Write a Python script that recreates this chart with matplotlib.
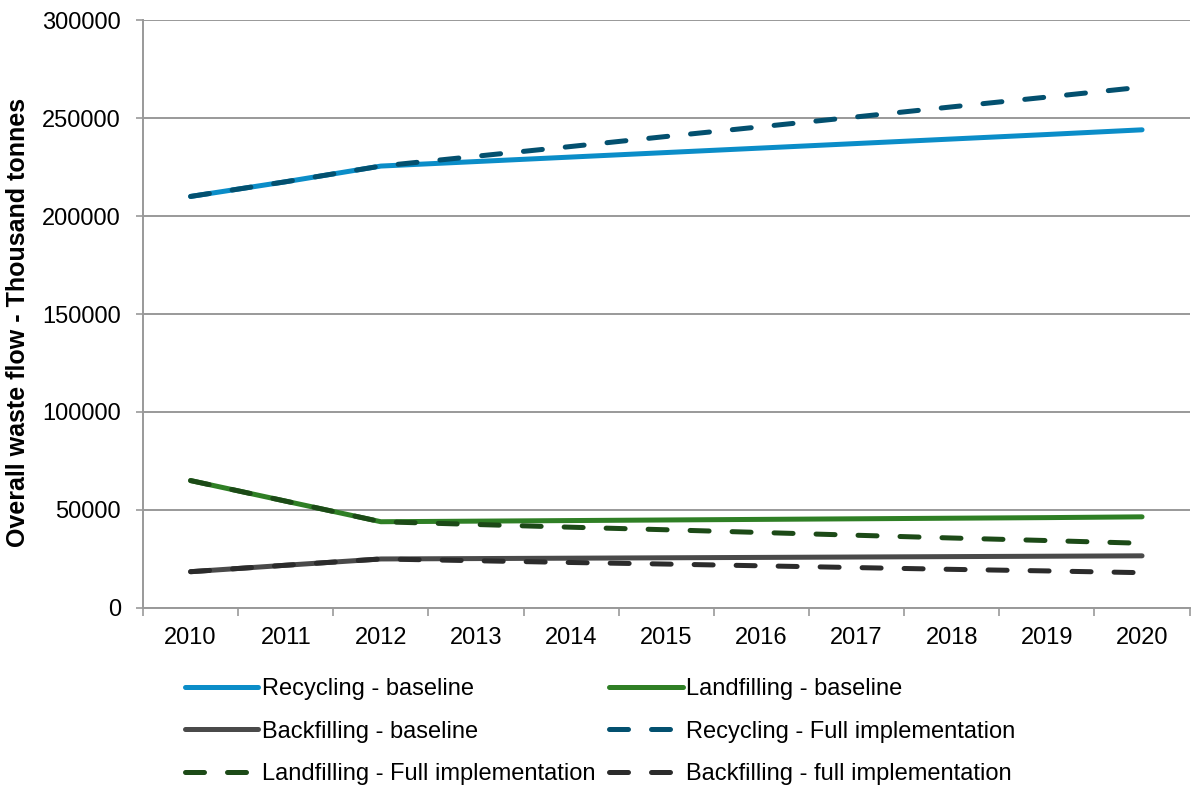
import numpy as np
import matplotlib.pyplot as plt
from matplotlib.lines import Line2D

plt.rcParams['font.family'] = ['Liberation Sans', 'DejaVu Sans']

# ----------------------------------------------------------------------
# Data (thousand tonnes)
# ----------------------------------------------------------------------
years = [2010, 2011, 2012, 2013, 2014, 2015, 2016, 2017, 2018, 2019, 2020]

recycling_base = [210000, 217500, 225500, 227800, 230100, 232400, 234700, 237000, 239300, 241600, 244000]
recycling_full = [210000, 217500, 225500, 230500, 235500, 240600, 245600, 250600, 255700, 260700, 265800]
landfill_base = [65000, 54500, 44000, 44300, 44600, 44900, 45200, 45500, 45800, 46100, 46500]
landfill_full = [65000, 54500, 44000, 42600, 41200, 39900, 38500, 37100, 35700, 34400, 33000]
backfill_base = [18500, 21800, 25000, 25200, 25400, 25600, 25800, 26000, 26200, 26400, 26600]
backfill_full = [18500, 21800, 25000, 24100, 23200, 22400, 21500, 20600, 19700, 18900, 18000]

# label, values, colour, dashed?
series = [
    ("Recycling - baseline", recycling_base, "#0B8DC8", False),
    ("Landfilling - baseline", landfill_base, "#2F7F25", False),
    ("Backfilling - baseline", backfill_base, "#4A4A4A", False),
    ("Recycling - Full implementation", recycling_full, "#03506F", True),
    ("Landfilling - Full implementation", landfill_full, "#1C4A17", True),
    ("Backfilling - full implementation", backfill_full, "#2B2B2B", True),
]

LW = 3.6
DASH = (0, (3.8, 4.6))

fig = plt.figure(figsize=(11.92, 7.87), dpi=100)
ax = fig.add_axes([0.12, 0.2275, 0.878, 0.747])

x = np.arange(len(years))
handles = []
for label, vals, color, dashed in series:
    ls = DASH if dashed else '-'
    ln, = ax.plot(x, vals, color=color, lw=LW, linestyle=ls,
                  dash_capstyle='round', solid_capstyle='round', label=label)
    handles.append(ln)

ax.set_xlim(-0.5, len(years) - 0.5)
ax.set_ylim(0, 300000)
ax.set_yticks(np.arange(0, 300001, 50000))
ax.set_yticklabels([str(v) for v in range(0, 300001, 50000)], fontsize=17)
ax.set_xticks(x)
ax.set_xticklabels([str(y) for y in years], fontsize=17)
ax.set_xticks(np.arange(-0.5, len(years), 1.0), minor=True)
ax.tick_params(axis='x', which='major', length=0, pad=14)
ax.tick_params(axis='x', which='minor', length=6, color='#999999', width=1.2)
ax.tick_params(axis='y', length=5, color='#999999', width=1.2, pad=11)

ax.grid(axis='y', color='#999999', lw=1.4)
ax.set_axisbelow(True)
for side in ['top', 'right']:
    ax.spines[side].set_visible(False)
for side in ['left', 'bottom']:
    ax.spines[side].set_color('#999999')
    ax.spines[side].set_linewidth(1.4)

ax.set_ylabel("Overall waste flow - Thousand tonnes", fontsize=18, fontweight='bold')
ax.yaxis.set_label_coords(-0.108, 0.485)

# legend is filled row by row in the reference -> reorder for column filling
order = [0, 2, 4, 1, 3, 5]
fig.legend([handles[i] for i in order], [series[i][0] for i in order],
           loc='upper left', bbox_to_anchor=(185 / 1192, 1 - 678 / 787),
           ncol=2, frameon=False, fontsize=17, borderpad=0, borderaxespad=0,
           handlelength=3.1, handletextpad=0.15, columnspacing=0.6,
           labelspacing=0.87)

fig.savefig("out.png", dpi=100)
